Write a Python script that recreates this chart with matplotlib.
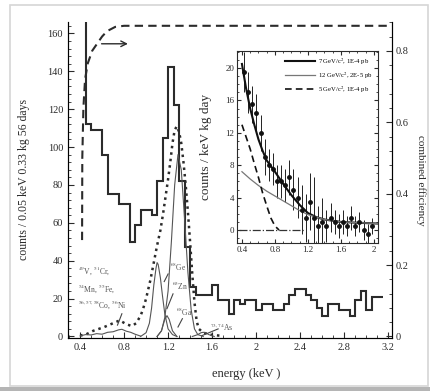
import numpy as np
import matplotlib.pyplot as plt
from matplotlib.patches import Rectangle
from matplotlib.ticker import MultipleLocator

plt.rcParams['font.family'] = ['Liberation Serif', 'DejaVu Serif']
plt.rcParams['mathtext.fontset'] = 'stix'

# main spectrum, 0.05 keV bins starting at 0.40 keV
bin_start = 0.40
bin_width = 0.05
counts = [200, 112, 109, 109, 96, 75, 75, 70, 70, 50,
          59, 67, 67, 64, 82, 105, 142, 122, 82, 47,
          26, 22, 22, 22, 27, 19, 19, 12, 19, 17,
          19, 19, 14, 17, 17, 14, 14, 17, 22, 25,
          25, 22, 19, 15, 11, 17, 17, 14, 14, 11,
          19, 24, 14, 21, 21]

# total fit (dotted)
fit_e = [0.40, 0.45, 0.52, 0.62, 0.70, 0.76, 0.82, 0.87, 0.91, 0.95, 0.97, 1.00,
         1.04, 1.07, 1.10, 1.13, 1.155, 1.18, 1.20, 1.22, 1.24, 1.26, 1.28, 1.30,
         1.32, 1.34, 1.36, 1.38, 1.40, 1.42, 1.44, 1.46, 1.48, 1.52, 1.60, 1.70]
fit_c = [0.5, 1.0, 3.0, 5.0, 7.0, 8.5, 6.5, 5.5, 7.0, 11, 14, 20,
         30, 39, 48, 56, 65, 75, 83, 92, 102, 109, 111, 108,
         102, 92, 80, 66, 50, 33, 18, 8, 4, 2, 0.8, 0.3]

# cosmogenic components (thin lines)
zn_e = [0.95, 1.00, 1.03, 1.05, 1.07, 1.09, 1.10, 1.11, 1.13, 1.15, 1.17, 1.20, 1.24, 1.28]
zn_c = [0, 2, 7, 15, 27, 36, 39, 38, 31, 21, 12, 4, 1, 0]
ge_e = [1.10, 1.14, 1.17, 1.20, 1.23, 1.26, 1.29, 1.32, 1.35, 1.38, 1.41, 1.44, 1.47, 1.52]
ge_c = [0, 3, 10, 24, 50, 80, 96, 88, 62, 34, 14, 4, 1, 0]
ga_e = [1.10, 1.14, 1.17, 1.19, 1.21, 1.24, 1.28]
ga_c = [0, 3, 9, 11, 9, 3, 0]
as_e = [1.42, 1.47, 1.50, 1.52, 1.54, 1.57, 1.62]
as_c = [0, 1, 2, 2.2, 2, 1, 0]
lo_e = [0.40, 0.45, 0.50, 0.55, 0.60, 0.65, 0.70, 0.75, 0.78, 0.82, 0.86, 0.90, 0.95]
lo_c = [0.3, 1.0, 0.8, 1.5, 1.2, 2.2, 2.5, 3.5, 3.8, 2.8, 2.2, 1.2, 0.2]

# efficiency (right axis)
eff_e = [0.418, 0.42, 0.43, 0.445, 0.47, 0.51, 0.555, 0.60, 0.645, 0.72, 0.80, 3.24]
eff = [0.27, 0.50, 0.64, 0.72, 0.765, 0.80, 0.82, 0.84, 0.855, 0.867, 0.87, 0.87]

# inset data
ins_e = [0.425, 0.475, 0.525, 0.575, 0.625, 0.675, 0.725, 0.775, 0.825, 0.875,
         0.925, 0.975, 1.025, 1.075, 1.125, 1.175, 1.225, 1.275, 1.325, 1.375,
         1.425, 1.475, 1.525, 1.575, 1.625, 1.675, 1.725, 1.775, 1.825, 1.875,
         1.925, 1.975]
ins_v = [19.5, 17, 15.5, 14.5, 12, 9, 8, 7.5, 6, 6,
         5.5, 6.5, 5, 4, 2.5, 1.5, 3.5, 1.5, 0.5, 1,
         0.5, 1.5, 1, 0.5, 1, 0.5, 1.5, 0.5, 1, 0,
         -0.5, 0.5]
ins_err = [2.5, 2.5, 2.3, 2.3, 2.2, 2.2, 2, 2, 2, 2,
           2, 2.2, 2.5, 2.5, 3, 3, 3.5, 5, 2.5, 3,
           2, 1.8, 1.5, 1.5, 1.5, 1.2, 1.5, 1.2, 1.2, 1.2,
           1.2, 1]
m7_e = [0.40, 0.45, 0.50, 0.55, 0.60, 0.65, 0.70, 0.80, 0.90, 1.00, 1.10, 1.20, 1.30, 1.40, 1.60, 1.80, 2.05]
m7_v = [20.5, 17.5, 15, 13, 11.2, 9.8, 8.6, 7.2, 5.7, 4.3, 3.1, 2.1, 1.6, 1.3, 1.0, 0.9, 0.8]
m12_e = [0.40, 0.50, 0.60, 0.70, 0.80, 0.90, 1.00, 1.10, 1.20, 1.40, 1.60, 2.05]
m12_v = [7.2, 6.3, 5.5, 4.8, 4.2, 3.6, 3.0, 2.4, 1.9, 1.3, 1.0, 0.8]
m5_e = [0.40, 0.45, 0.50, 0.55, 0.60, 0.65, 0.70, 0.75, 0.80, 0.85]
m5_v = [13, 11.5, 10, 8.2, 6.5, 4.6, 3.0, 1.5, 0.5, 0]

ink = '#2b2b2b'
fig = plt.figure(figsize=(4.30, 3.91), dpi=100)

# screenshot frame
fig.patches.append(Rectangle((10/430, 5/391), 418/430, 381/391, transform=fig.transFigure,
                             fill=False, ec='#d6d6d6', lw=1.2))
fig.patches.append(Rectangle((0, 0), 1, 4/391, transform=fig.transFigure, fc='#b5b5b5', ec='none'))

ax = fig.add_axes([68/430, 53/391, 324/430, 316/391])
edges = bin_start + bin_width * np.arange(len(counts) + 1)
ax.stairs(counts, edges, baseline=None, color=ink, lw=1.5)
ax.plot(fit_e, fit_c, ls=(0, (1, 1.6)), color=ink, lw=1.8)
for e, c in [(zn_e, zn_c), (ge_e, ge_c), (ga_e, ga_c), (as_e, as_c), (lo_e, lo_c)]:
    ax.plot(e, c, color='#555555', lw=0.8)

ax.set_xlim(0.29, 3.236)
ax.set_ylim(-0.8, 166)
ax.xaxis.set_major_locator(MultipleLocator(0.4))
ax.xaxis.set_minor_locator(MultipleLocator(0.1))
ax.yaxis.set_major_locator(MultipleLocator(20))
ax.yaxis.set_minor_locator(MultipleLocator(4))
ax.tick_params(which='both', direction='in', labelsize=7.5, colors=ink, right=False, top=False)
ax.tick_params(which='major', length=4)
ax.tick_params(which='minor', length=2)
ax.set_xticks([0.4, 0.8, 1.2, 1.6, 2.0, 2.4, 2.8, 3.2])
ax.set_xticklabels(['0.4', '0.8', '1.2', '1.6', '2', '2.4', '2.8', '3.2'])
ax.spines['top'].set_visible(False)
for s in ['left', 'bottom', 'right']:
    ax.spines[s].set_color(ink)
ax.set_xlabel('energy (keV )', fontsize=9, color=ink)
ax.xaxis.set_label_coords(0.55, -0.095)
ax.set_ylabel('counts / 0.05 keV 0.33 kg 56 days', fontsize=8.5, color=ink)
ax.yaxis.set_label_coords(-0.117, 0.5)

# isotope labels
lab = dict(fontsize=5.5, color='#555555')
ax.text(0.38, 34.5, r'$^{49}$V, $^{51}$Cr,', va='center', **lab)
ax.text(0.38, 25, r'$^{54}$Mn, $^{55}$Fe,', va='center', **lab)
ax.text(0.38, 17, r'$^{56,57,58}$Co, $^{56}$Ni', va='center', **lab)
ax.text(1.22, 36.6, r'$^{68}$Ge', va='center', **lab)
ax.text(1.24, 26.7, r'$^{65}$Zn', va='center', **lab)
ax.text(1.27, 13, r'$^{68}$Ga', va='center', **lab)
ax.text(1.58, 5, r'$^{73,74}$As', va='center', **lab)
for (x0, y0), (x1, y1) in [((0.78, 12), (0.74, 6)), ((1.20, 33), (1.165, 29)),
                           ((1.245, 22.5), (1.19, 14.7)), ((1.33, 9.4), (1.29, 5)),
                           ((1.655, 4), (1.51, 0.5))]:
    ax.plot([x0, x1], [y0, y1], color='#444444', lw=0.8)

ax.annotate('', xy=(0.86, 154.5), xytext=(0.57, 154.5),
            arrowprops=dict(arrowstyle='->', color=ink, lw=1.0))

ax2 = ax.twinx()
ax2.plot(eff_e, eff, color=ink, lw=1.5, ls=(0, (4, 2.5)))
ax2.set_ylim(-0.8 / 188.5, 166 / 188.5)
ax2.yaxis.set_major_locator(MultipleLocator(0.2))
ax2.yaxis.set_minor_locator(MultipleLocator(0.04))
ax2.set_yticks([0, 0.2, 0.4, 0.6, 0.8])
ax2.set_yticklabels(['0', '0.2', '0.4', '0.6', '0.8'])
ax2.tick_params(which='both', direction='in', labelsize=7.5, colors=ink, pad=2.5)
ax2.tick_params(which='major', length=4)
ax2.tick_params(which='minor', length=2)
ax2.spines['top'].set_visible(False)
ax2.set_ylabel('combined efficiency', fontsize=8, color=ink, rotation=270, va='center')
ax2.yaxis.set_label_coords(1.09, 0.5)

# inset
ins = fig.add_axes([237/430, 148/391, 141/430, 192/391])
ins.errorbar(ins_e, ins_v, yerr=ins_err, fmt='o', ms=2.5, color='#111111', ecolor='#222222',
             elinewidth=0.7, capsize=0)
ins.plot(m7_e, m7_v, color='#111111', lw=1.5, label=r'7 GeV/c$^2$, 1E-4 pb')
ins.plot(m12_e, m12_v, color='#777777', lw=0.9, label=r'12 GeV/c$^2$, 2E-5 pb')
ins.plot(m5_e, m5_v, color='#111111', lw=1.2, ls=(0, (4, 2.5)), label=r'5 GeV/c$^2$, 1E-4 pb')
ins.plot([0.36, 1.15], [0, 0], color='#333333', lw=0.9, ls='-.')
ins.set_xlim(0.34, 2.05)
ins.set_ylim(-1.6, 22.1)
ins.xaxis.set_major_locator(MultipleLocator(0.4))
ins.xaxis.set_minor_locator(MultipleLocator(0.1))
ins.yaxis.set_major_locator(MultipleLocator(4))
ins.yaxis.set_minor_locator(MultipleLocator(1))
ins.set_xticks([0.4, 0.8, 1.2, 1.6, 2.0])
ins.set_xticklabels(['0.4', '0.8', '1.2', '1.6', '2'])
ins.tick_params(which='both', direction='in', labelsize=6.5, colors=ink, top=True, right=True)
ins.tick_params(which='major', length=3, pad=2)
ins.tick_params(which='minor', length=1.5)
for s in ins.spines.values():
    s.set_color(ink)
ins.set_ylabel('counts / keV kg day', fontsize=9.5, color=ink)
ins.yaxis.set_label_coords(-0.177, 0.5)
ins.legend(loc='upper right', fontsize=4.8, frameon=False, handlelength=4.5,
           borderaxespad=0.4, labelspacing=0.5, handletextpad=0.4)

fig.savefig('out.png', dpi=100)
